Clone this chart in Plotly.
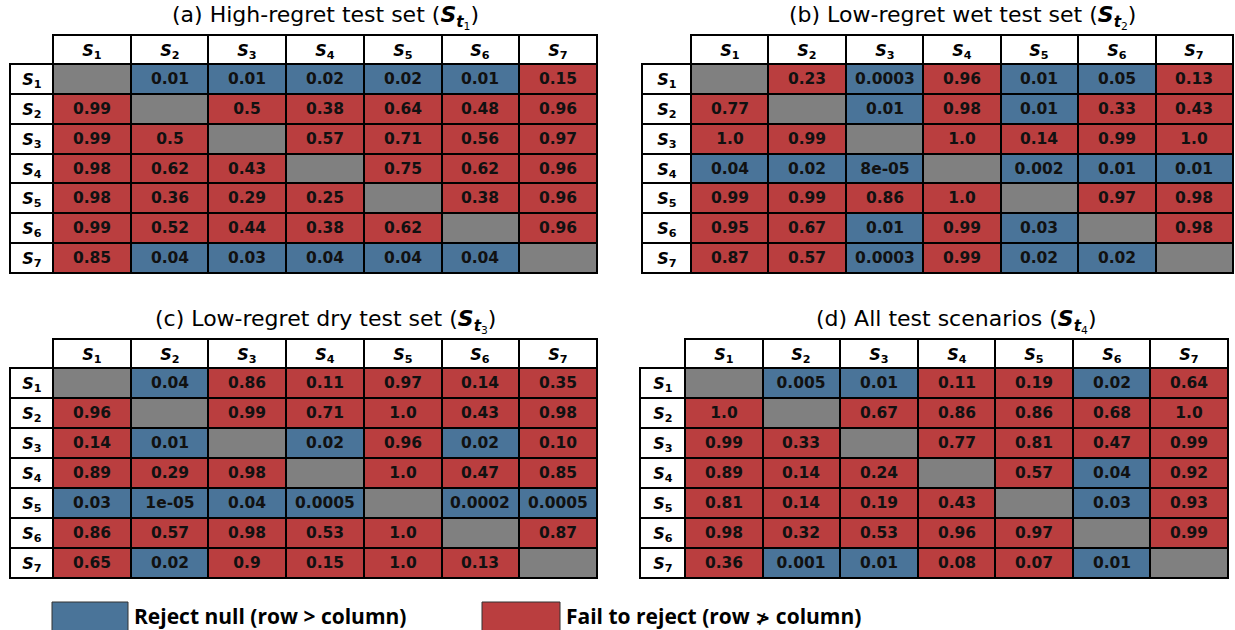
import plotly.graph_objects as go

# Pairwise test p-values (row vs column) for seven strategies, four test sets.
strategies = ["1", "2", "3", "4", "5", "6", "7"]

p_high_regret = [
    ["", "0.01", "0.01", "0.02", "0.02", "0.01", "0.15"],
    ["0.99", "", "0.5", "0.38", "0.64", "0.48", "0.96"],
    ["0.99", "0.5", "", "0.57", "0.71", "0.56", "0.97"],
    ["0.98", "0.62", "0.43", "", "0.75", "0.62", "0.96"],
    ["0.98", "0.36", "0.29", "0.25", "", "0.38", "0.96"],
    ["0.99", "0.52", "0.44", "0.38", "0.62", "", "0.96"],
    ["0.85", "0.04", "0.03", "0.04", "0.04", "0.04", ""],
]
p_low_regret_wet = [
    ["", "0.23", "0.0003", "0.96", "0.01", "0.05", "0.13"],
    ["0.77", "", "0.01", "0.98", "0.01", "0.33", "0.43"],
    ["1.0", "0.99", "", "1.0", "0.14", "0.99", "1.0"],
    ["0.04", "0.02", "8e-05", "", "0.002", "0.01", "0.01"],
    ["0.99", "0.99", "0.86", "1.0", "", "0.97", "0.98"],
    ["0.95", "0.67", "0.01", "0.99", "0.03", "", "0.98"],
    ["0.87", "0.57", "0.0003", "0.99", "0.02", "0.02", ""],
]
p_low_regret_dry = [
    ["", "0.04", "0.86", "0.11", "0.97", "0.14", "0.35"],
    ["0.96", "", "0.99", "0.71", "1.0", "0.43", "0.98"],
    ["0.14", "0.01", "", "0.02", "0.96", "0.02", "0.10"],
    ["0.89", "0.29", "0.98", "", "1.0", "0.47", "0.85"],
    ["0.03", "1e-05", "0.04", "0.0005", "", "0.0002", "0.0005"],
    ["0.86", "0.57", "0.98", "0.53", "1.0", "", "0.87"],
    ["0.65", "0.02", "0.9", "0.15", "1.0", "0.13", ""],
]
p_all_scenarios = [
    ["", "0.005", "0.01", "0.11", "0.19", "0.02", "0.64"],
    ["1.0", "", "0.67", "0.86", "0.86", "0.68", "1.0"],
    ["0.99", "0.33", "", "0.77", "0.81", "0.47", "0.99"],
    ["0.89", "0.14", "0.24", "", "0.57", "0.04", "0.92"],
    ["0.81", "0.14", "0.19", "0.43", "", "0.03", "0.93"],
    ["0.98", "0.32", "0.53", "0.96", "0.97", "", "0.99"],
    ["0.36", "0.001", "0.01", "0.08", "0.07", "0.01", ""],
]

panel_titles = [
    "(a) High-regret test set",
    "(b) Low-regret wet test set",
    "(c) Low-regret dry test set",
    "(d) All test scenarios",
]
panel_values = [p_high_regret, p_low_regret_wet, p_low_regret_dry, p_all_scenarios]

ALPHA = 0.05
BLUE = "#4a7499"
RED = "#ba3e3f"
GRAY = "#808080"
FONT = "DejaVu Sans"

W, H = 1235, 630

# pixel boxes: (row-header left, data left, data right, header top, header bottom, data bottom)
boxes = [
    (10, 53, 597, 35, 64, 273),
    (642, 691, 1233, 35, 64, 273),
    (10, 53, 597, 339, 368, 578),
    (640, 685, 1228, 339, 368, 578),
]


def xd(a, b):
    return [a / W, b / W]


def yd(top, bottom):
    return [1 - bottom / H, 1 - top / H]


def label(s):
    return "<b><i>S</i><sub>" + s + "</sub></b>"


def code(v):
    if v == "":
        return 2
    return 0 if float(v) <= ALPHA else 1


cell_scale = [[0, BLUE], [0.33, BLUE], [0.33, RED], [0.67, RED], [0.67, GRAY], [1, GRAY]]
white_scale = [[0, "white"], [1, "white"]]

fig = go.Figure()
axis_common = dict(showticklabels=False, showgrid=False, zeroline=False,
                   showline=True, mirror=True, linecolor="black", linewidth=1,
                   ticks="", fixedrange=True)
layout_axes = {}
n = 0
for vals, (rx0, dx0, dx1, ht, hb, db) in zip(panel_values, boxes):
    idx = list(range(len(strategies)))
    z = [[code(v) for v in row] for row in vals]

    # data cells
    n += 1
    fig.add_trace(go.Heatmap(
        x=idx, y=idx, z=z, text=vals, texttemplate="%{text}",
        textfont=dict(family=FONT, size=15.5, color="#111111", weight="bold"),
        colorscale=cell_scale, zmin=0, zmax=2, showscale=False,
        xgap=2, ygap=2, hoverinfo="skip", xaxis=f"x{n}", yaxis=f"y{n}"))
    layout_axes[f"xaxis{n}"] = dict(domain=xd(dx0, dx1), range=[-0.5, 6.5], anchor=f"y{n}", **axis_common)
    layout_axes[f"yaxis{n}"] = dict(domain=yd(hb, db), range=[6.5, -0.5], anchor=f"x{n}", **axis_common)

    # column headers
    n += 1
    fig.add_trace(go.Heatmap(
        x=idx, y=[0], z=[[0] * 7], text=[[label(s) for s in strategies]], texttemplate="%{text}",
        textfont=dict(family=FONT, size=16, color="black"),
        colorscale=white_scale, showscale=False, xgap=2, ygap=2,
        hoverinfo="skip", xaxis=f"x{n}", yaxis=f"y{n}"))
    layout_axes[f"xaxis{n}"] = dict(domain=xd(dx0, dx1), range=[-0.5, 6.5], anchor=f"y{n}", **axis_common)
    layout_axes[f"yaxis{n}"] = dict(domain=yd(ht, hb), range=[-0.5, 0.5], anchor=f"x{n}", **axis_common)

    # row headers
    n += 1
    fig.add_trace(go.Heatmap(
        x=[0], y=idx, z=[[0] for _ in idx], text=[[label(s)] for s in strategies], texttemplate="%{text}",
        textfont=dict(family=FONT, size=16, color="black"),
        colorscale=white_scale, showscale=False, xgap=2, ygap=2,
        hoverinfo="skip", xaxis=f"x{n}", yaxis=f"y{n}"))
    layout_axes[f"xaxis{n}"] = dict(domain=xd(rx0, dx0), range=[-0.5, 0.5], anchor=f"y{n}", **axis_common)
    layout_axes[f"yaxis{n}"] = dict(domain=yd(hb, db), range=[6.5, -0.5], anchor=f"x{n}", **axis_common)

annotations = []
for k, (title, (rx0, dx0, dx1, ht, hb, db)) in enumerate(zip(panel_titles, boxes)):
    sub = "<b><i>S</i></b><sub><b><i>t</i></b><sub>" + str(k + 1) + "</sub></sub>"
    annotations.append(dict(
        text=title + " (" + sub + ")", x=(dx0 + dx1) / 2 / W, y=1 - (ht - 18) / H,
        xref="paper", yref="paper", xanchor="center", yanchor="middle", showarrow=False,
        font=dict(family=FONT, size=22, color="black")))

# legend patches and labels
legend_items = [
    (BLUE, "Reject null (row > column)", 52, 128),
    (RED, "Fail to reject (row <span style=\"font-family:DejaVu Sans;font-size:18px\">\u226f</span> column)", 482, 560),
]
shapes = []
for color, text, x0, x1 in legend_items:
    shapes.append(dict(type="rect", xref="paper", yref="paper",
                       x0=x0 / W, x1=x1 / W, y0=1 - 634 / H, y1=1 - 602 / H,
                       fillcolor=color, line=dict(color="#333333", width=1)))
    annotations.append(dict(text="<b>" + text + "</b>", x=(x1 + 4) / W, y=1 - 616 / H,
                            xref="paper", yref="paper", xanchor="left", yanchor="middle",
                            showarrow=False, font=dict(family="Open Sans", size=21, color="black")))

fig.update_layout(
    width=W, height=H, margin=dict(l=0, r=0, t=0, b=0),
    paper_bgcolor="white", plot_bgcolor="black",
    annotations=annotations, shapes=shapes, showlegend=False,
    **layout_axes)

fig.write_html("out.html")
